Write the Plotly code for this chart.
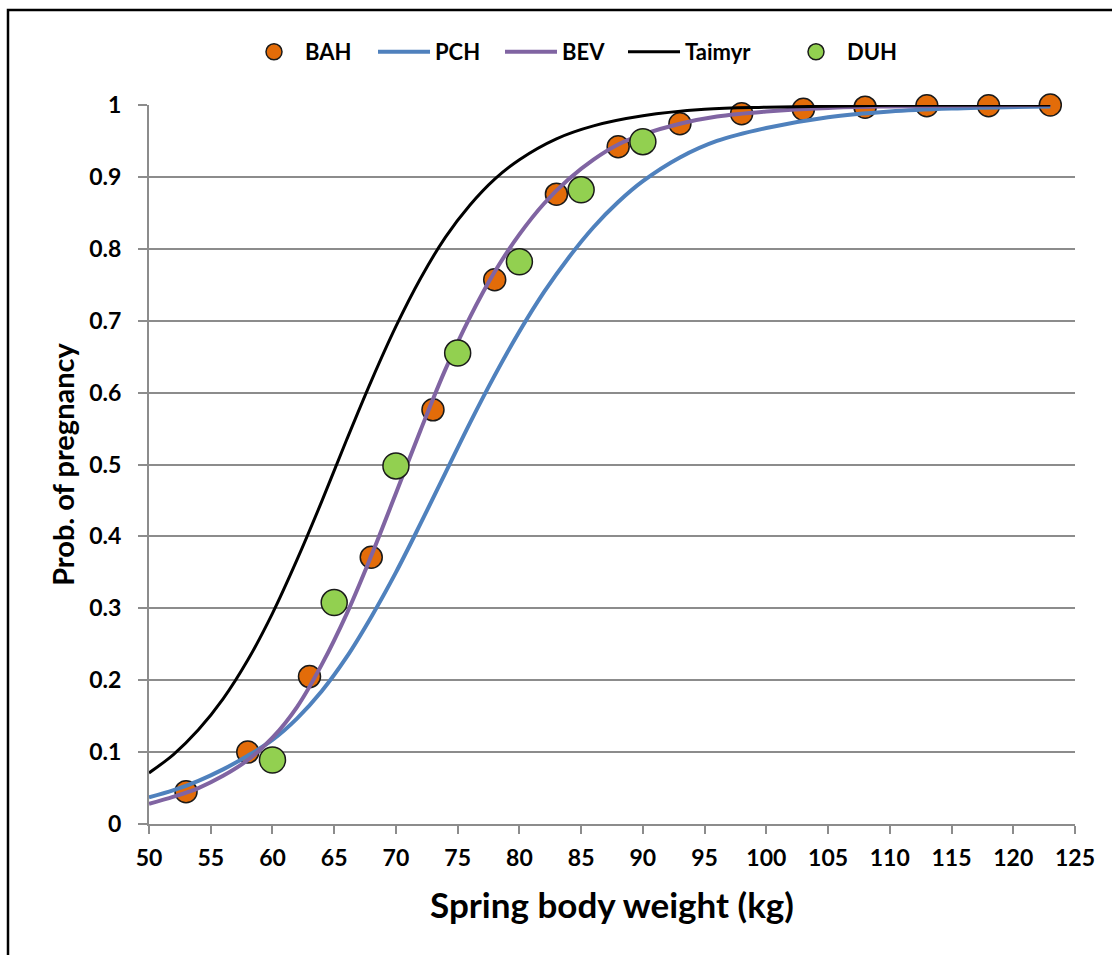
import plotly.graph_objects as go

# ---- data ----
bah_x = [53, 58, 63, 68, 73, 78, 83, 88, 93, 98, 103, 108, 113, 118, 123]
bah_y = [0.045, 0.100, 0.205, 0.371, 0.576, 0.757, 0.876, 0.942, 0.974, 0.988, 0.994, 0.997, 0.999, 0.999, 1.0]

duh_x = [60, 65, 70, 75, 80, 85, 90]
duh_y = [0.089, 0.308, 0.498, 0.655, 0.782, 0.882, 0.949]

pch_x = [50, 52, 54, 56, 58, 60, 62, 64, 66, 68, 70, 72, 74, 76, 78, 80, 82, 84, 86, 88, 90, 93, 96, 100, 105, 110, 115, 123]
pch_y = [0.037, 0.047, 0.060, 0.076, 0.095, 0.117, 0.147, 0.185, 0.232, 0.288, 0.350, 0.418, 0.488, 0.558, 0.624, 0.685, 0.740, 0.788, 0.830, 0.865, 0.894, 0.927, 0.950, 0.968, 0.983, 0.991, 0.995, 0.998]

bev_x = [50, 52, 54, 56, 58, 60, 62, 64, 66, 68, 70, 72, 74, 76, 78, 80, 82, 84, 86, 88, 90, 93, 96, 100, 105, 110, 115, 123]
bev_y = [0.028, 0.038, 0.050, 0.067, 0.089, 0.120, 0.163, 0.222, 0.292, 0.373, 0.460, 0.548, 0.632, 0.705, 0.768, 0.820, 0.863, 0.897, 0.924, 0.945, 0.959, 0.974, 0.984, 0.991, 0.996, 0.998, 0.999, 1.0]

tai_x = [50, 52, 54, 56, 58, 60, 62, 64, 66, 68, 70, 72, 74, 76, 78, 80, 83, 86, 90, 95, 100, 110, 123]
tai_y = [0.071, 0.097, 0.131, 0.174, 0.228, 0.293, 0.368, 0.449, 0.534, 0.616, 0.692, 0.759, 0.816, 0.861, 0.897, 0.924, 0.953, 0.971, 0.985, 0.994, 0.997, 0.9995, 1.0]

x_ticks = list(range(50, 126, 5))
y_ticks = [0, 0.1, 0.2, 0.3, 0.4, 0.5, 0.6, 0.7, 0.8, 0.9, 1]
y_tick_text = ["0", "0.1", "0.2", "0.3", "0.4", "0.5", "0.6", "0.7", "0.8", "0.9", "1"]

FONT = "Lato, 'Open Sans', sans-serif"
GRID = "#8c8c8c"
LEG_FONT = dict(family=FONT, size=22, weight="bold", color="black")

fig = go.Figure()
fig.add_trace(go.Scatter(x=bah_x, y=bah_y, mode="markers", name="BAH", legend="legend",
                         marker=dict(size=22, color="#E36C09", line=dict(color="#1a1a1a", width=1.5)),
                         cliponaxis=False))
fig.add_trace(go.Scatter(x=pch_x, y=pch_y, mode="lines", name="PCH", legend="legend2",
                         line=dict(color="#4F81BD", width=4, shape="spline", smoothing=1)))
fig.add_trace(go.Scatter(x=bev_x, y=bev_y, mode="lines", name="BEV", legend="legend3",
                         line=dict(color="#8064A2", width=4, shape="spline", smoothing=1)))
fig.add_trace(go.Scatter(x=tai_x, y=tai_y, mode="lines", name="Taimyr", legend="legend4",
                         line=dict(color="#000000", width=3, shape="spline", smoothing=1)))
fig.add_trace(go.Scatter(x=duh_x, y=duh_y, mode="markers", name="DUH", legend="legend5",
                         marker=dict(size=26, color="#92D050", line=dict(color="#1a1a1a", width=1.5)),
                         cliponaxis=False))

LEG_Y = (824 - 52) / 719
def leg(text_px):
    return dict(orientation="h", x=(text_px - 62 - 149) / 926, xanchor="left",
                y=LEG_Y, yanchor="middle", font=LEG_FONT, itemwidth=52,
                bgcolor="rgba(0,0,0,0)", borderwidth=0)

fig.update_layout(
    width=1112, height=955,
    margin=dict(l=149, r=37, t=105, b=131),
    paper_bgcolor="white", plot_bgcolor="white",
    font=dict(family=FONT, color="black", size=23, weight="bold"),
    showlegend=True,
    legend=leg(305), legend2=leg(435), legend3=leg(562), legend4=leg(685), legend5=leg(847),
    xaxis=dict(range=[50, 125], tickvals=x_ticks, showgrid=False, zeroline=False,
               showline=True, linecolor=GRID, linewidth=2,
               ticks="outside", ticklen=8, tickwidth=2, tickcolor=GRID,
               ticklabelstandoff=4,
               tickfont=dict(family=FONT, size=23, weight="bold"),
               title=dict(text="Spring body weight (kg)", standoff=24,
                          font=dict(family=FONT, size=35, weight="bold"))),
    yaxis=dict(range=[0, 1], tickvals=y_ticks, ticktext=y_tick_text, showgrid=True,
               gridcolor=GRID, gridwidth=2, zeroline=False,
               showline=True, linecolor=GRID, linewidth=2,
               ticks="outside", ticklen=9, tickwidth=2, tickcolor=GRID,
               ticklabelstandoff=12,
               tickfont=dict(family=FONT, size=23, weight="bold"),
               title=dict(text="Prob. of pregnancy", standoff=6,
                          font=dict(family=FONT, size=29, weight="bold"))),
    shapes=[dict(type="rect", xref="paper", yref="paper",
                 x0=(8 - 149) / 926, x1=1.2, y0=-0.4, y1=(824 - 10) / 719,
                 line=dict(color="black", width=2.5), fillcolor="rgba(0,0,0,0)", layer="above")],
)

fig.write_html("out.html")
